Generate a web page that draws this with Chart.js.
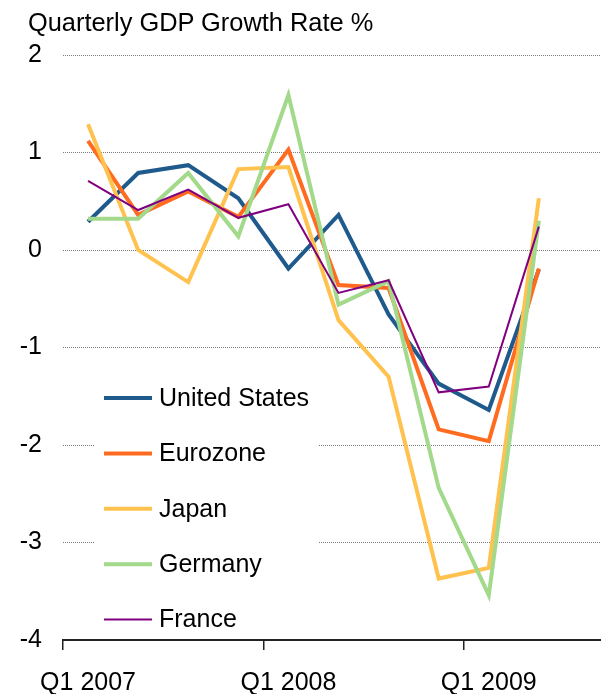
<!DOCTYPE html>
<html>
<head>
<meta charset="utf-8">
<script src="https://cdn.jsdelivr.net/npm/chart.js@4.4.0/dist/chart.umd.min.js"></script>
<style>
  html, body { margin: 0; padding: 0; background: #fff; overflow: hidden; }
  #wrap { position: relative; width: 601px; height: 694px; overflow: hidden; }
  #title { position: absolute; left: 28px; top: 10px; font: 25.4px "Liberation Sans", Arial, sans-serif; line-height: 25px; color: #000; white-space: nowrap; }
  canvas { position: absolute; left: 0; top: 0; }
</style>
</head>
<body>
<div id="wrap">
  <canvas id="c" width="614" height="694"></canvas>
  <div id="title">Quarterly GDP Growth Rate %</div>
</div>
<script>
const quarters = ['Q1 2007','Q2 2007','Q3 2007','Q4 2007','Q1 2008','Q2 2008','Q3 2008','Q4 2008','Q1 2009','Q2 2009','Q3 2009'];
const yTicks = [2, 1, 0, -1, -2, -3, -4];
const unitedStates = [0.29, 0.79, 0.87, 0.53, -0.19, 0.36, -0.66, -1.37, -1.64, -0.20];
const eurozone     = [1.12, 0.36, 0.60, 0.34, 1.03, -0.36, -0.39, -1.84, -1.96, -0.19];
const japan        = [1.29, 0.00, -0.33, 0.83, 0.85, -0.72, -1.30, -3.37, -3.26, 0.53];
const germany      = [0.32, 0.32, 0.79, 0.14, 1.59, -0.56, -0.32, -2.44, -3.54, 0.30];
const france       = [0.71, 0.41, 0.62, 0.33, 0.47, -0.44, -0.31, -1.46, -1.40, 0.24];

const FONT = '"Liberation Sans", Arial, sans-serif';

const legendPlugin = {
  id: 'innerLegend',
  beforeDatasetsDraw(chart) {
    const ctx = chart.ctx;
    ctx.save();
    ctx.fillStyle = '#fff';
    ctx.fillRect(94, 362, 225, 275);
    chart.data.datasets.forEach((ds, i) => {
      const y = 398 + i * 55.4;
      ctx.strokeStyle = ds.borderColor;
      ctx.lineWidth = ds.borderWidth;
      ctx.beginPath();
      ctx.moveTo(104, y);
      ctx.lineTo(152, y);
      ctx.stroke();
      ctx.fillStyle = '#000';
      ctx.font = '25px ' + FONT;
      ctx.textBaseline = 'middle';
      ctx.textAlign = 'left';
      ctx.fillText(ds.label, 159, y + 1);
    });
    ctx.restore();
  }
};

new Chart(document.getElementById('c'), {
  type: 'line',
  data: {
    labels: quarters,
    datasets: [
      { label: 'United States', data: unitedStates, borderColor: '#1F5A8C', borderWidth: 4, order: 5 },
      { label: 'Eurozone', data: eurozone, borderColor: '#FF6B1F', borderWidth: 4, order: 4 },
      { label: 'Japan', data: japan, borderColor: '#FFC24F', borderWidth: 4, order: 3 },
      { label: 'Germany', data: germany, borderColor: '#A2D98A', borderWidth: 4, order: 2 },
      { label: 'France', data: france, borderColor: '#800080', borderWidth: 2, order: 1 }
    ]
  },
  options: {
    responsive: false,
    animation: false,
    events: [],
    layout: { padding: { top: 55, bottom: 0, left: 20, right: 0 } },
    elements: { point: { radius: 0 }, line: { tension: 0, fill: false } },
    plugins: { legend: { display: false }, title: { display: false }, tooltip: { enabled: false } },
    scales: {
      x: {
        type: 'category',
        offset: true,
        afterFit: (s) => { s.paddingLeft = 0; s.paddingRight = 0; s.height = 54; },
        grid: {
          offset: true,
          drawOnChartArea: false,
          drawTicks: true,
          tickLength: 10,
          lineWidth: 1.5,
          color: (c) => (c.index % 4 === 0 ? '#222' : 'rgba(0,0,0,0)')
        },
        border: { display: true, color: '#222', width: 2 },
        ticks: {
          autoSkip: false,
          maxRotation: 0,
          minRotation: 0,
          padding: 18,
          color: '#000',
          font: { family: FONT, size: 25 },
          callback: function (v, i) { return i % 4 === 0 ? this.getLabelForValue(v) : ''; }
        }
      },
      y: {
        min: -4,
        max: 2,
        afterBuildTicks: (s) => { s.ticks = yTicks.map(v => ({ value: v })); },
        afterFit: (s) => { s.width = 43; s.paddingTop = 0; s.paddingBottom = 0; },
        grid: { color: '#7a7a7a', lineWidth: 1, drawTicks: false },
        border: { display: false, dash: [1, 1] },
        ticks: {
          padding: 21,
          color: '#000',
          font: { family: FONT, size: 25 }
        }
      }
    }
  },
  plugins: [legendPlugin]
});
</script>
</body>
</html>
